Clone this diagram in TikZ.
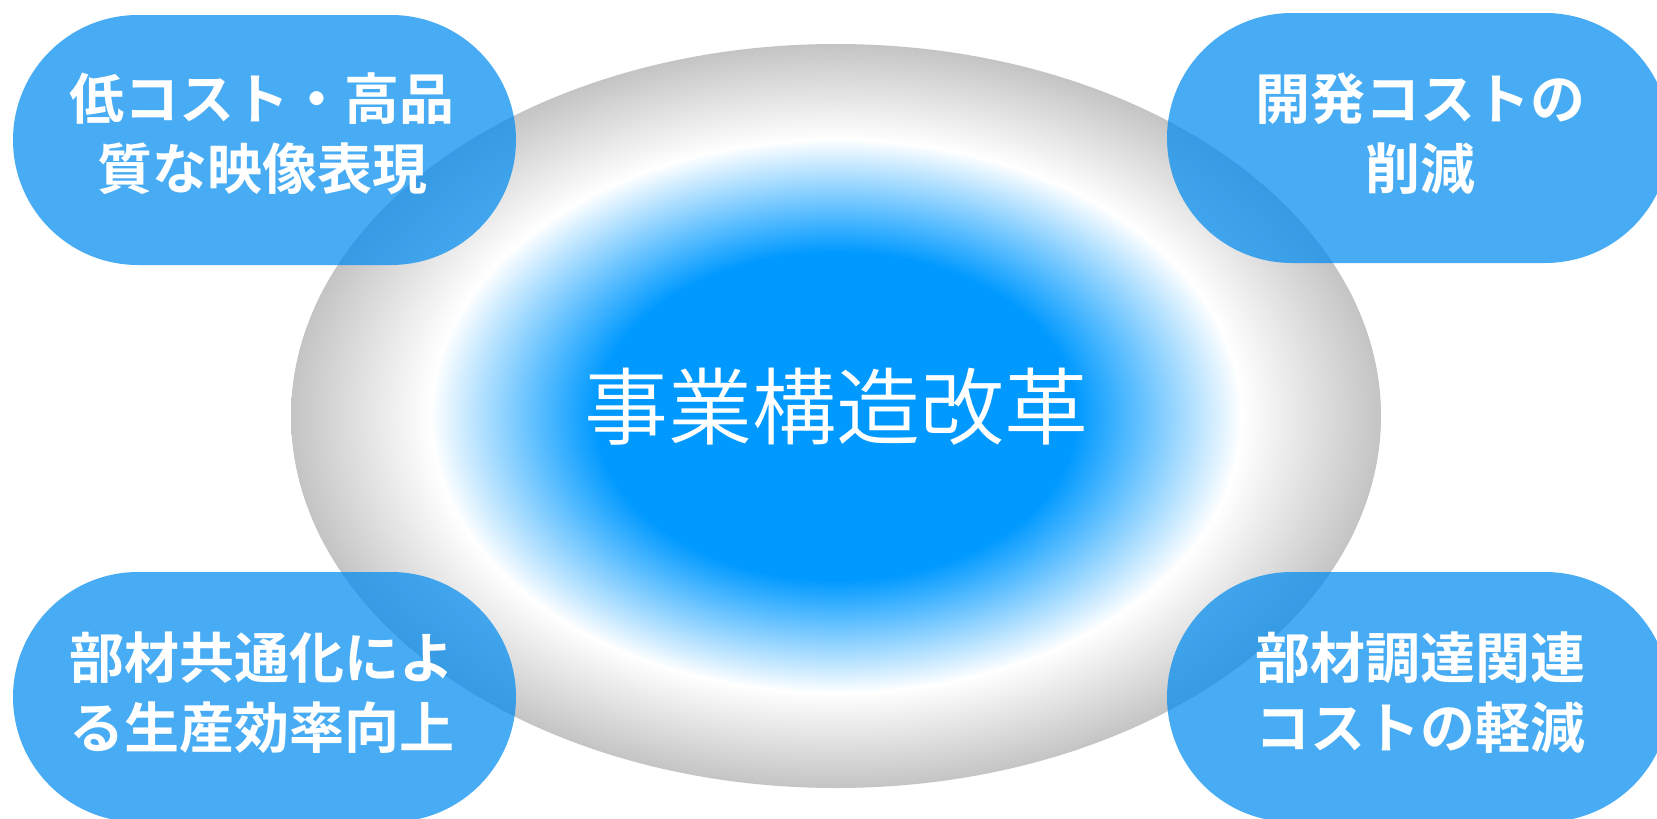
\documentclass[tikz,border=0pt]{standalone}
\usepackage{fontspec}
\newfontfamily\cjk{Noto Sans CJK JP DemiLight}
\newfontfamily\cjkb{Noto Sans CJK JP Bold}
\usetikzlibrary{shapes.misc,shapes.geometric}
\definecolor{coreblue}{RGB}{0,153,255}
\definecolor{ringgray}{RGB}{196,196,196}
\definecolor{pillblue}{RGB}{0,140,240}
\pgfdeclareradialshading{coreshade}{\pgfpointorigin}{%
  color(0bp)=(coreblue); color(11bp)=(coreblue); color(18.6bp)=(white);
  color(25bp)=(ringgray); color(50bp)=(ringgray)}
\tikzset{
  pill/.style={rounded rectangle, fill=pillblue, fill opacity=0.72, draw=none,
    minimum height=250pt, inner sep=0pt},
  pilltext/.style={text=white, align=center, inner sep=0pt,
    font=\cjkb\fontsize{55}{70}\selectfont},
  coretext/.style={text=white, inner sep=0pt, font=\cjk\fontsize{84}{92}\selectfont},
}
\begin{document}
\begin{tikzpicture}[x=1pt,y=-1pt]
\clip (0,0) rectangle (1657,819);
\fill[white] (0,0) rectangle (1657,819);
\node[ellipse, shading=coreshade, minimum width=1090pt, minimum height=744pt, inner sep=0pt] (core) at (836,416) {};
\node[coretext] (coret) at (836,407) {事業構造改革};
\node[pill, minimum width=503pt] (tl) at (264.5,140) {};
\node[pill, minimum width=503pt] (tr) at (1418.5,138) {};
\node[pill, minimum width=503pt] (bl) at (264.5,697) {};
\node[pill, minimum width=503pt] (br) at (1418.5,697) {};
\node[pilltext] (tlt) at (262,134) {低コスト・高品\\質な映像表現};
\node[pilltext] (trt) at (1420,134) {開発コストの\\削減};
\node[pilltext] (blt) at (262,693) {部材共通化によ\\る生産効率向上};
\node[pilltext] (brt) at (1420,693) {部材調達関連\\コストの軽減};
\end{tikzpicture}
\end{document}
